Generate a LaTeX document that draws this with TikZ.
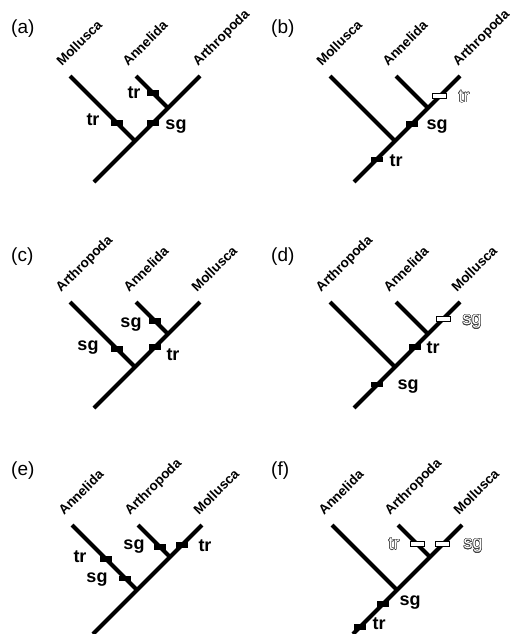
\documentclass[tikz,border=0pt]{standalone}
\usepackage{fontspec}
\setmainfont{Liberation Sans}
\usepackage{contour}
\contourlength{0.5pt}
\contournumber{16}
\usetikzlibrary{calc}
\newcommand\hollowtext[1]{{\color{white}\contour{black!75}{#1}}}
\tikzset{
  branch/.style={line width=4pt},
  mk/.style={rectangle, fill=black, draw=none, minimum width=12pt, minimum height=5.5pt, inner sep=0pt},
  omk/.style={rectangle, fill=white, draw=black, line width=1pt, minimum width=14pt, minimum height=5.5pt, inner sep=0pt},
  lab/.style={inner sep=0pt, font=\fontsize{18}{18}\selectfont\bfseries},
  glab/.style={inner sep=0pt, font=\fontsize{18}{18}\selectfont},
  taxon/.style={rotate=45, anchor=base west, inner sep=0pt, font=\fontsize{13.5}{13.5}\selectfont\bfseries},
  plab/.style={anchor=west, inner sep=0pt, font=\fontsize{19}{19}\selectfont}
}
\begin{document}
\begin{tikzpicture}[x=1pt,y=-1pt]
\useasboundingbox (0,0) rectangle (520,634);
% ---------- coordinates
\foreach \p/\dx/\dy/\ex in {a/0/0/0, b/260/0/0, c/0/226/0, d/260/226/0}{
  \coordinate (\p R) at (94+\dx,182+\dy);
  \coordinate (\p J1) at (135+\dx,141+\dy);
  \coordinate (\p J2) at (168+\dx,108+\dy);
  \coordinate (\p L) at (70+\dx,76+\dy);
  \coordinate (\p M) at (136+\dx,76+\dy);
  \coordinate (\p T) at (200+\dx,76+\dy);
}
\foreach \p/\dx in {e/0, f/260}{
  \coordinate (\p R) at (93+\dx,634);
  \coordinate (\p J1) at (137+\dx,590);
  \coordinate (\p J2) at (170+\dx,557);
  \coordinate (\p L) at (72+\dx,525);
  \coordinate (\p M) at (138+\dx,525);
  \coordinate (\p T) at (202+\dx,525);
}
% ---------- branches
\foreach \p in {a,b,c,d,e,f}{
  \draw[branch] (\p R) -- (\p T);
  \draw[branch] (\p J1) -- (\p L);
  \draw[branch] (\p J2) -- (\p M);
}
% ---------- panel labels
\node[plab] (pa) at (11,29) {(a)};
\node[plab] (pb) at (271,29) {(b)};
\node[plab] (pc) at (11,257) {(c)};
\node[plab] (pd) at (271,257) {(d)};
\node[plab] (pe) at (11,471) {(e)};
\node[plab] (pf) at (271,471) {(f)};
% ---------- taxa
\node[taxon] (taL) at ($(aL)+(-8,-9)$) {Mollusca};
\node[taxon] (taM) at ($(aM)+(-8,-9)$) {Annelida};
\node[taxon] (taT) at ($(aT)+(-2,-9)$) {Arthropoda};
\node[taxon] (tbL) at ($(bL)+(-8,-9)$) {Mollusca};
\node[taxon] (tbM) at ($(bM)+(-8,-9)$) {Annelida};
\node[taxon] (tbT) at ($(bT)+(-2,-9)$) {Arthropoda};
\node[taxon] (tcL) at ($(cL)+(-9,-9)$) {Arthropoda};
\node[taxon] (tcM) at ($(cM)+(-7,-9)$) {Annelida};
\node[taxon] (tcT) at ($(cT)+(-3,-9)$) {Mollusca};
\node[taxon] (tdL) at ($(dL)+(-9,-9)$) {Arthropoda};
\node[taxon] (tdM) at ($(dM)+(-7,-9)$) {Annelida};
\node[taxon] (tdT) at ($(dT)+(-3,-9)$) {Mollusca};
\node[taxon] (teL) at ($(eL)+(-8,-9)$) {Annelida};
\node[taxon] (teM) at ($(eM)+(-8,-9)$) {Arthropoda};
\node[taxon] (teT) at ($(eT)+(-3,-9)$) {Mollusca};
\node[taxon] (tfL) at ($(fL)+(-8,-9)$) {Annelida};
\node[taxon] (tfM) at ($(fM)+(-8,-9)$) {Arthropoda};
\node[taxon] (tfT) at ($(fT)+(-3,-9)$) {Mollusca};
% ---------- panel (a)
\node[mk] (ma1) at ($(aJ1)!0.28!(aL)$) {};
\node[mk] (ma2) at ($(aJ2)!0.47!(aM)$) {};
\node[mk] (ma3) at ($(aJ1)!0.55!(aJ2)$) {};
\node[lab] (la1) at (93,120) {tr};
\node[lab] (la2) at (134,93) {tr};
\node[lab] (la3) at (176,127) {sg};
% ---------- panel (b)
\node[omk] (mb1) at ($(bJ2)!0.37!(bT)$) {};
\node[mk] (mb2) at ($(bJ1)!0.52!(bJ2)$) {};
\node[mk] (mb3) at ($(bR)!0.55!(bJ1)$) {};
\node[glab] (lb1) at (464,97) {\hollowtext{tr}};
\node[lab] (lb2) at (437,127) {sg};
\node[lab] (lb3) at (396,161) {tr};
% ---------- panel (c)
\node[mk] (mc1) at ($(cJ1)!0.28!(cL)$) {};
\node[mk] (mc2) at ($(cJ2)!0.40!(cM)$) {};
\node[mk] (mc3) at ($(cJ1)!0.60!(cJ2)$) {};
\node[lab] (lc1) at (88,348) {sg};
\node[lab] (lc2) at (131,325) {sg};
\node[lab] (lc3) at (173,355) {tr};
% ---------- panel (d)
\node[omk] (md1) at ($(dJ2)!0.47!(dT)$) {};
\node[mk] (md2) at ($(dJ1)!0.60!(dJ2)$) {};
\node[mk] (md3) at ($(dR)!0.57!(dJ1)$) {};
\node[glab] (ld1) at (472,322) {\hollowtext{sg}};
\node[lab] (ld2) at (433,348) {tr};
\node[lab] (ld3) at (408,387) {sg};
% ---------- panel (e)
\node[mk] (me1) at ($(eJ1)!0.48!(eL)$) {};
\node[mk] (me2) at ($(eJ1)!0.18!(eL)$) {};
\node[mk] (me3) at ($(eJ2)!0.31!(eM)$) {};
\node[mk] (me4) at ($(eJ2)!0.37!(eT)$) {};
\node[lab] (le1) at (80,557) {tr};
\node[lab] (le2) at (97,580) {sg};
\node[lab] (le3) at (134,547) {sg};
\node[lab] (le4) at (205,546) {tr};
% ---------- panel (f)
\node[omk] (mf1) at ($(fJ2)!0.40!(fM)$) {};
\node[omk] (mf2) at ($(fJ2)!0.40!(fT)$) {};
\node[mk] (mf3) at ($(fJ1)!0.32!(fR)$) {};
\node[mk] (mf4) at ($(fJ1)!0.84!(fR)$) {};
\node[glab] (lf1) at (394,544) {\hollowtext{tr}};
\node[glab] (lf2) at (473,546) {\hollowtext{sg}};
\node[lab] (lf3) at (410,603) {sg};
\node[lab] (lf4) at (379,624) {tr};
\end{tikzpicture}
\end{document}
